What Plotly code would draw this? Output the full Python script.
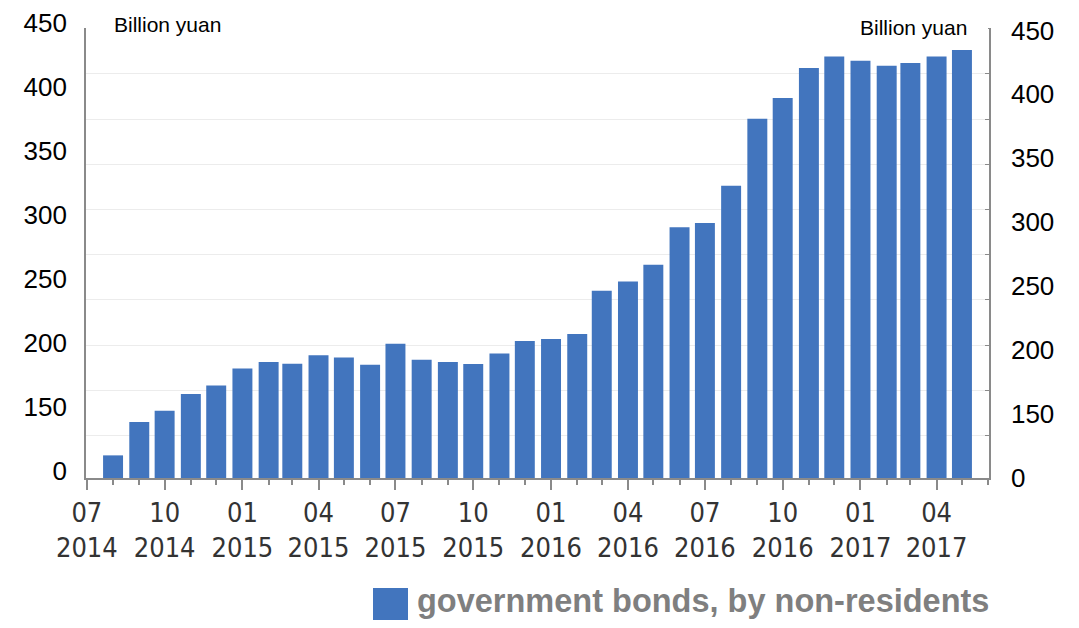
import plotly.graph_objects as go

# ---- data ----
months = [
    "2014-08-01", "2014-09-01", "2014-10-01", "2014-11-01", "2014-12-01",
    "2015-01-01", "2015-02-01", "2015-03-01", "2015-04-01", "2015-05-01",
    "2015-06-01", "2015-07-01", "2015-08-01", "2015-09-01", "2015-10-01",
    "2015-11-01", "2015-12-01", "2016-01-01", "2016-02-01", "2016-03-01",
    "2016-04-01", "2016-05-01", "2016-06-01", "2016-07-01", "2016-08-01",
    "2016-09-01", "2016-10-01", "2016-11-01", "2016-12-01", "2017-01-01",
    "2017-02-01", "2017-03-01", "2017-04-01", "2017-05-01",
]
holdings = [
    117.7, 143.8, 152.6, 165.7, 172.4, 185.7, 190.7, 189.4, 195.9, 194.3,
    188.6, 205.0, 192.5, 190.7, 189.1, 197.4, 207.1, 208.7, 212.6, 246.5,
    253.7, 266.8, 296.0, 299.4, 328.6, 380.9, 397.1, 420.6, 429.7, 426.3,
    422.4, 424.5, 429.7, 435.5,
]
axis_base = 100  # the bottom of the axis, labelled "0"
y_tick_values = [100, 150, 200, 250, 300, 350, 400, 450]
y_tick_labels = ["0", "150", "200", "250", "300", "350", "400", "450"]
unit_label = "Billion yuan"
series_name = "government bonds, by non-residents"

BAR_COLOR = "#4275be"
AXIS_COLOR = "#8a8a8a"

# The page body has an 8px margin, so the figure is laid out 8px smaller.
OFF = 8
W, H = 1079 - 2 * OFF, 628 - 2 * OFF
PLOT_L, PLOT_R, PLOT_T, PLOT_B = 86, 989, 10, 478   # screen pixels
ML, MT = PLOT_L - OFF, PLOT_T - OFF
MR = W - (PLOT_R - OFF)
MB = H - (PLOT_B - OFF)
PW = PLOT_R - PLOT_L
PH = PLOT_B - PLOT_T


def px_x(p):
    return (p - PLOT_L) / PW


def px_y(p):
    return (PLOT_B - p) / PH


fig = go.Figure()
fig.add_trace(go.Bar(
    x=months, y=[v - axis_base for v in holdings], base=axis_base,
    name=series_name,
    marker=dict(color=BAR_COLOR, line=dict(width=0)),
    width=2.04e9, showlegend=False,
))
# empty trace so that the left-hand label axis gets drawn
fig.add_trace(go.Scatter(x=[None], y=[None], yaxis="y2", mode="markers",
                         showlegend=False, hoverinfo="skip"))

tick_font = dict(family="Liberation Sans, Arial, sans-serif", size=26, color="#000000")

fig.update_layout(
    template="none",
    width=W, height=H,
    margin=dict(l=ML, r=MR, t=MT, b=MB, pad=0, autoexpand=False),
    paper_bgcolor="white", plot_bgcolor="rgba(0,0,0,0)",
    bargap=0.22,
    xaxis=dict(
        type="date", anchor="y", automargin=False,
        range=["2014-06-30", "2017-06-02"],
        tick0="2014-07-01", dtick="M3", tickformat="%m<br>%Y",
        ticks="outside", ticklen=10, tickwidth=1.5, tickcolor=AXIS_COLOR,
        ticklabelstandoff=0,
        showline=True, linecolor=AXIS_COLOR, linewidth=1.5,
        showgrid=False, zeroline=False,
        tickfont=dict(family="DejaVu Sans Condensed, DejaVu Sans, sans-serif",
                      size=27, color="#333333"),
        minor=dict(tickmode="linear", tick0="2014-07-01", dtick="M1",
                   ticks="outside", ticklen=5, tickcolor=AXIS_COLOR, showgrid=False),
    ),
    yaxis=dict(
        domain=[0, (PLOT_B - 28) / PH], side="right", anchor="x", automargin=False,
        range=[100, 451.9],
        tickmode="array", tickvals=y_tick_values, ticktext=y_tick_labels,
        ticks="", ticklabelstandoff=15, tickfont=tick_font,
        ticklabeloverflow="allow",
        showline=True, mirror=True, linecolor=AXIS_COLOR, linewidth=1.5,
        showgrid=False, zeroline=False,
        minor=dict(tickmode="linear", tick0=204.0, dtick=35.34, showgrid=True,
                   gridcolor="#ececec", gridwidth=1,
                   ticks="inside", ticklen=4, tickcolor=AXIS_COLOR),
    ),
    yaxis2=dict(
        domain=[0, 1], side="left", anchor="x", automargin=False,
        range=[94.3, 459.7],
        tickmode="array", tickvals=y_tick_values, ticktext=y_tick_labels,
        ticks="", ticklabelstandoff=18, tickfont=tick_font,
        ticklabeloverflow="allow",
        showline=False, showgrid=False, zeroline=False,
    ),
    annotations=[
        dict(text=unit_label, xref="paper", yref="paper",
             x=px_x(167), y=px_y(24), xanchor="center", yanchor="middle",
             showarrow=False,
             font=dict(family="Liberation Sans, Arial, sans-serif", size=21, color="#000")),
        dict(text=unit_label, xref="paper", yref="paper",
             x=px_x(913.5), y=px_y(28), xanchor="center", yanchor="middle",
             showarrow=False,
             font=dict(family="Liberation Sans, Arial, sans-serif", size=21, color="#000")),
        dict(text="<b>" + series_name + "</b>", xref="paper", yref="paper",
             x=px_x(415), y=px_y(601), xanchor="left", yanchor="middle",
             showarrow=False,
             font=dict(family="Liberation Sans, Arial, sans-serif", size=32.5, color="#7f7f7f")),
    ],
    shapes=[
        # white label boxes behind the unit labels
        dict(type="rect", xref="paper", yref="paper", layer="above",
             x0=px_x(90), x1=px_x(242), y0=px_y(44), y1=px_y(OFF),
             fillcolor="white", line=dict(width=0)),
        dict(type="rect", xref="paper", yref="paper", layer="above",
             x0=px_x(838), x1=px_x(988), y0=px_y(50), y1=px_y(OFF),
             fillcolor="white", line=dict(width=0)),
        # legend swatch
        dict(type="rect", xref="paper", yref="paper",
             x0=px_x(373), x1=px_x(408), y0=px_y(628 - OFF), y1=px_y(588),
             fillcolor=BAR_COLOR, line=dict(width=0)),
    ],
)

fig.write_html("out.html")
